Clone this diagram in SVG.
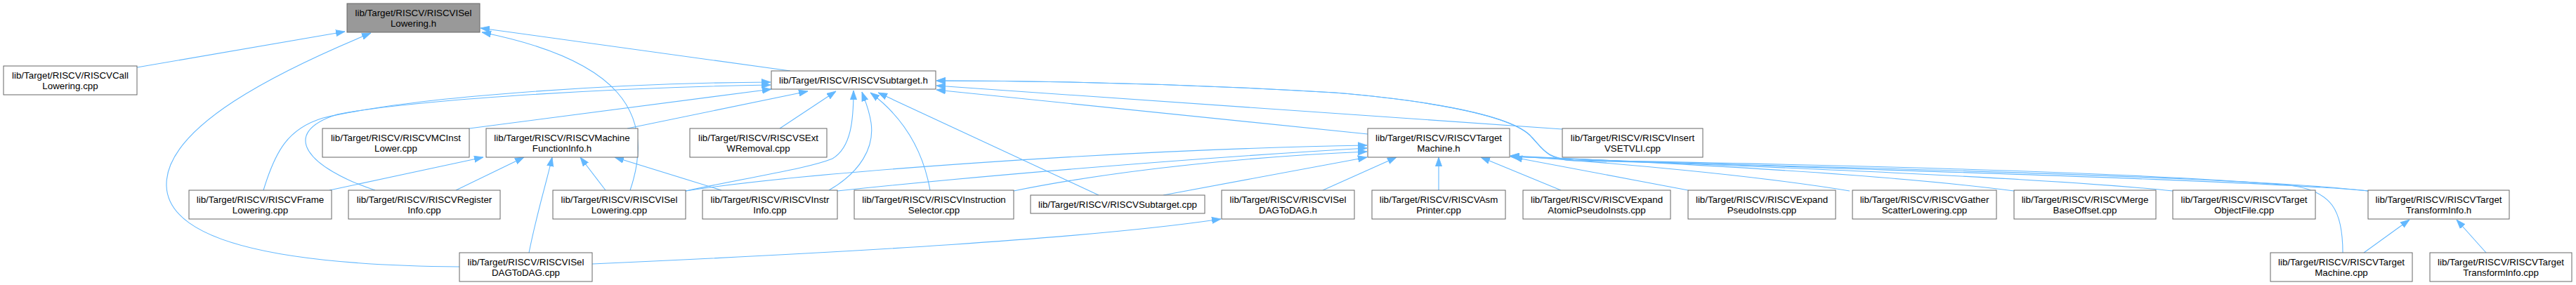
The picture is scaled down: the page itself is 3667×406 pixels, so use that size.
<svg xmlns="http://www.w3.org/2000/svg" width="3667" height="406" viewBox="0 0 3667 406">
<style>
.node rect{fill:#ffffff;stroke:#666666;stroke-width:1}
.node.hl rect{fill:#999999}
.node text{font-family:"Liberation Sans",Arial,Helvetica,sans-serif;font-size:13.33px;fill:#000000;text-anchor:middle}
.edges path{fill:none;stroke:#63b8ff;stroke-width:1.1;marker-end:url(#arr)}
</style>
<defs>
<marker id="arr" viewBox="0 0 13 10" refX="13" refY="5" markerWidth="13" markerHeight="10" markerUnits="userSpaceOnUse" orient="auto">
<path d="M0,0.4 L13,5 L0,9.6 z" fill="#63b8ff" stroke="#63b8ff" stroke-width="0.8"/>
</marker>
</defs>
<rect width="3667" height="406" fill="#ffffff"/>
<g class="edges">
<path d="M195,96 L491,45"/>
<path d="M654,380 C420,378 240,350 237,265 C234,180 400,100 528,47"/>
<path d="M897,271 C935,160 880,85 686,46"/>
<path d="M1125,101 L684,40"/>
<path d="M375,271 C392,215 410,183 460,168 C600,135 900,118 1097,117"/>
<path d="M534,271 C440,240 395,190 480,163 C600,140 900,124 1097,121"/>
<path d="M668,183 L1098,127"/>
<path d="M893,183 L1150,130"/>
<path d="M1110,183 L1190,130"/>
<path d="M976,272 C1080,250 1150,240 1185,226 C1212,210 1215,170 1215,129"/>
<path d="M1180,271 C1225,245 1245,210 1240,175 C1237,155 1232,145 1227,131"/>
<path d="M1324,271 C1315,220 1290,170 1239,132"/>
<path d="M1564,278 L1250,132"/>
<path d="M1947,191 L1333,128"/>
<path d="M2224,184 L1333,122"/>
<path d="M3335,360 C3335,300 3320,272 3260,264 C3000,242 2500,233 2240,228 C2200,226 2195,210 2180,195 C2150,160 2000,140 1900,132 C1700,120 1500,115 1333,115"/>
<path d="M3371,272 C3200,252 2600,237 2240,229 C2200,227 2195,210 2180,195 C2150,160 2000,140 1900,132 C1700,120 1500,115 1333,115"/>
<path d="M469,271 L688,224"/>
<path d="M649,271 L746,224"/>
<path d="M753,360 C765,300 778,260 786,224"/>
<path d="M862,271 L826,224"/>
<path d="M1027,271 L875,224"/>
<path d="M976,272 C1150,245 1600,213 1946,207"/>
<path d="M1192,272 C1400,250 1700,225 1946,211"/>
<path d="M1443,272 C1600,240 1800,222 1946,216"/>
<path d="M1656,278 L1946,224"/>
<path d="M1883,271 L1988,224"/>
<path d="M2048,271 L2048,224"/>
<path d="M2222,271 L2108,224"/>
<path d="M2403,271 L2154,224"/>
<path d="M2633,272 C2500,250 2300,232 2150,222"/>
<path d="M2867,272 C2700,250 2400,233 2150,222"/>
<path d="M3093,272 C2900,252 2450,235 2150,223"/>
<path d="M3371,272 C3200,255 2500,238 2150,223"/>
<path d="M843,376 C1200,360 1550,340 1738,312"/>
<path d="M3365,360 L3430,313"/>
<path d="M3539,360 L3497,313"/>
</g>
<g id="n1" class="node hl"><rect x="494" y="5" width="189" height="41"/><text x="588.5" y="23">lib/Target/RISCV/RISCVISel</text><text x="588.5" y="38">Lowering.h</text></g>
<g id="n2" class="node"><rect x="5" y="94" width="190" height="41"/><text x="100" y="112">lib/Target/RISCV/RISCVCall</text><text x="100" y="127">Lowering.cpp</text></g>
<g id="n3" class="node"><rect x="1098" y="101" width="234" height="26"/><text x="1215" y="119">lib/Target/RISCV/RISCVSubtarget.h</text></g>
<g id="n4" class="node"><rect x="459" y="183" width="209" height="41"/><text x="563.5" y="201">lib/Target/RISCV/RISCVMCInst</text><text x="563.5" y="216">Lower.cpp</text></g>
<g id="n5" class="node"><rect x="692" y="183" width="216" height="41"/><text x="800" y="201">lib/Target/RISCV/RISCVMachine</text><text x="800" y="216">FunctionInfo.h</text></g>
<g id="n6" class="node"><rect x="982" y="183" width="195" height="41"/><text x="1079.5" y="201">lib/Target/RISCV/RISCVSExt</text><text x="1079.5" y="216">WRemoval.cpp</text></g>
<g id="n7" class="node"><rect x="1947" y="183" width="202" height="41"/><text x="2048" y="201">lib/Target/RISCV/RISCVTarget</text><text x="2048" y="216">Machine.h</text></g>
<g id="n8" class="node"><rect x="2224" y="183" width="200" height="41"/><text x="2324" y="201">lib/Target/RISCV/RISCVInsert</text><text x="2324" y="216">VSETVLI.cpp</text></g>
<g id="n9" class="node"><rect x="269" y="271" width="203" height="41"/><text x="370.5" y="289">lib/Target/RISCV/RISCVFrame</text><text x="370.5" y="304">Lowering.cpp</text></g>
<g id="n10" class="node"><rect x="496" y="271" width="216" height="41"/><text x="604" y="289">lib/Target/RISCV/RISCVRegister</text><text x="604" y="304">Info.cpp</text></g>
<g id="n11" class="node"><rect x="787" y="271" width="189" height="41"/><text x="881.5" y="289">lib/Target/RISCV/RISCVISel</text><text x="881.5" y="304">Lowering.cpp</text></g>
<g id="n12" class="node"><rect x="1000" y="271" width="192" height="41"/><text x="1096" y="289">lib/Target/RISCV/RISCVInstr</text><text x="1096" y="304">Info.cpp</text></g>
<g id="n13" class="node"><rect x="1216" y="271" width="227" height="41"/><text x="1329.5" y="289">lib/Target/RISCV/RISCVInstruction</text><text x="1329.5" y="304">Selector.cpp</text></g>
<g id="n14" class="node"><rect x="1467" y="278" width="248" height="26"/><text x="1591" y="296">lib/Target/RISCV/RISCVSubtarget.cpp</text></g>
<g id="n15" class="node"><rect x="1739" y="271" width="189" height="41"/><text x="1833.5" y="289">lib/Target/RISCV/RISCVISel</text><text x="1833.5" y="304">DAGToDAG.h</text></g>
<g id="n16" class="node"><rect x="1953" y="271" width="190" height="41"/><text x="2048" y="289">lib/Target/RISCV/RISCVAsm</text><text x="2048" y="304">Printer.cpp</text></g>
<g id="n17" class="node"><rect x="2168" y="271" width="210" height="41"/><text x="2273" y="289">lib/Target/RISCV/RISCVExpand</text><text x="2273" y="304">AtomicPseudoInsts.cpp</text></g>
<g id="n18" class="node"><rect x="2403" y="271" width="210" height="41"/><text x="2508" y="289">lib/Target/RISCV/RISCVExpand</text><text x="2508" y="304">PseudoInsts.cpp</text></g>
<g id="n19" class="node"><rect x="2637" y="271" width="205" height="41"/><text x="2739.5" y="289">lib/Target/RISCV/RISCVGather</text><text x="2739.5" y="304">ScatterLowering.cpp</text></g>
<g id="n20" class="node"><rect x="2867" y="271" width="202" height="41"/><text x="2968" y="289">lib/Target/RISCV/RISCVMerge</text><text x="2968" y="304">BaseOffset.cpp</text></g>
<g id="n21" class="node"><rect x="3093" y="271" width="203" height="41"/><text x="3194.5" y="289">lib/Target/RISCV/RISCVTarget</text><text x="3194.5" y="304">ObjectFile.cpp</text></g>
<g id="n22" class="node"><rect x="3371" y="271" width="201" height="41"/><text x="3471.5" y="289">lib/Target/RISCV/RISCVTarget</text><text x="3471.5" y="304">TransformInfo.h</text></g>
<g id="n23" class="node"><rect x="654" y="360" width="189" height="41"/><text x="748.5" y="378">lib/Target/RISCV/RISCVISel</text><text x="748.5" y="393">DAGToDAG.cpp</text></g>
<g id="n24" class="node"><rect x="3232" y="360" width="202" height="41"/><text x="3333" y="378">lib/Target/RISCV/RISCVTarget</text><text x="3333" y="393">Machine.cpp</text></g>
<g id="n25" class="node"><rect x="3459" y="360" width="202" height="41"/><text x="3560" y="378">lib/Target/RISCV/RISCVTarget</text><text x="3560" y="393">TransformInfo.cpp</text></g>
</svg>
